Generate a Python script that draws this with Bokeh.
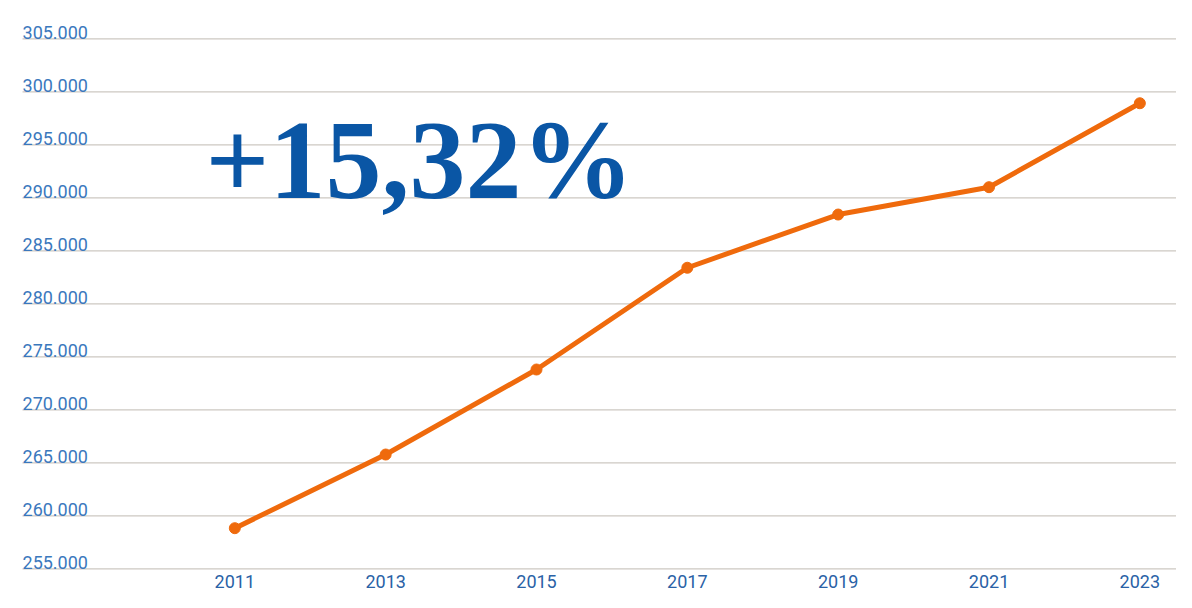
from bokeh.plotting import figure
from bokeh.models import Range1d, Label
from bokeh.core.properties import value
from bokeh.embed import file_html
from bokeh.resources import INLINE

years = [2011, 2013, 2015, 2017, 2019, 2021, 2023]
population = [258830, 265780, 273800, 283400, 288420, 291000, 298920]
y_ticks = [255000, 260000, 265000, 270000, 275000, 280000, 285000, 290000, 295000, 300000, 305000]
y_tick_labels = ["255.000", "260.000", "265.000", "270.000", "275.000", "280.000",
                 "285.000", "290.000", "295.000", "300.000", "305.000"]
year_labels = ["2011", "2013", "2015", "2017", "2019", "2021", "2023"]
headline = "+15,32%"

X_START, X_END = 2007.893, 2023.486
Y_START, Y_END = 252764, 308613
GRID_X0 = 2008.185

p = figure(width=1176, height=592, output_backend="svg", toolbar_location=None,
           x_range=Range1d(X_START, X_END), y_range=Range1d(Y_START, Y_END),
           min_border_left=0, min_border_right=0, min_border_top=0, min_border_bottom=0)
p.axis.visible = False
p.xgrid.visible = False
p.ygrid.visible = False
p.outline_line_color = None
p.background_fill_color = "white"
p.border_fill_color = "white"

# gridlines
p.segment(x0=[GRID_X0] * len(y_ticks), x1=[X_END] * len(y_ticks), y0=y_ticks, y1=y_ticks,
          line_color="#cdc8c2", line_width=1.3)

# y labels above gridlines
p.text(x=[GRID_X0] * len(y_ticks), y=y_ticks, text=y_tick_labels,
       text_font=value("Roboto"), text_font_size="18px", text_color="#3b78bd",
       text_align="left", text_baseline="alphabetic", y_offset=-6)

# x labels
p.text(x=years, y=[y_ticks[0]] * len(years), text=year_labels,
       text_font=value("Roboto"), text_font_size="18px", text_color="#2a62a6",
       text_align="center", text_baseline="alphabetic", y_offset=13)

# series
p.line(years, population, line_color="#ef6a0c", line_width=5)
p.scatter(years, population, size=11, fill_color="#ef6a0c", line_color="#ef6a0c")

# headline
p.add_layout(Label(x=2010.612, y=293547, text=headline, text_font="Liberation Serif",
                   text_font_style="bold", text_font_size="112px", text_color="#0a56a5",
                   text_baseline="alphabetic", text_align="left"))

open("out.html", "w").write(file_html(p, INLINE))
